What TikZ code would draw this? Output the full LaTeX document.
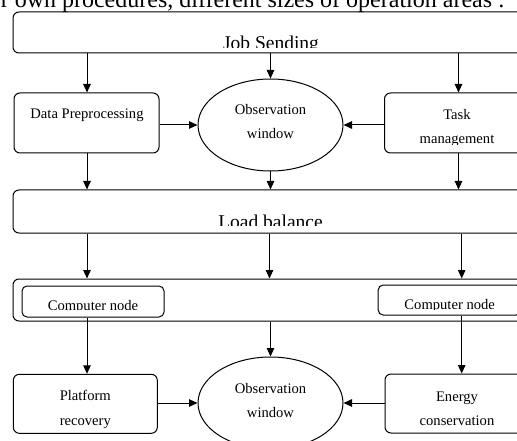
\documentclass[tikz,border=0pt]{standalone}
\usepackage{fontspec}
\setmainfont{Liberation Serif}
\usetikzlibrary{shapes.geometric,arrows.meta,calc}
\begin{document}
\begin{tikzpicture}[x=1pt,y=-1pt,
  box/.style={draw, line width=1pt, rounded corners=6pt, inner sep=0pt},
  oval/.style={draw, ellipse, line width=1pt, inner sep=0pt, minimum width=145pt, minimum height=92pt},
  txt/.style={font=\fontsize{14.6}{17}\selectfont, inner sep=0pt, anchor=base},
  big/.style={font=\fontsize{19.5}{23}\selectfont, inner sep=0pt, anchor=base},
  arr/.style={-{Triangle[length=8.5pt,width=7.5pt]}, line width=1pt}]
\useasboundingbox (0,0) rectangle (517,441);
\clip (0,0) rectangle (517,441);
\node[font=\fontsize{24}{28}\selectfont, inner sep=0pt, anchor=base east] (head) at (505,7.5) {r own procedures, different sizes of operation areas :};
% boxes
\node[box, minimum width=516pt, minimum height=41pt] (js) at (271,32.5) {};
\node[box, minimum width=145pt, minimum height=60pt] (dp) at (86.5,123) {};
\node[oval] (ow1) at (270.5,125) {};
\node[box, minimum width=145pt, minimum height=60pt] (tm) at (457,123) {};
\node[box, minimum width=516pt, minimum height=43pt] (lb) at (271,211.5) {};
\node[box, minimum width=516pt, minimum height=42pt] (outer) at (271,300) {};
\node[box, rounded corners=5pt, minimum width=142pt, minimum height=31pt] (cn1) at (93,301.5) {};
\node[box, rounded corners=5pt, minimum width=143pt, minimum height=30pt] (cn2) at (449.7,300) {};
\node[box, minimum width=144pt, minimum height=59pt] (pr) at (85.3,403.8) {};
\node[oval] (ow2) at (270.5,403) {};
\node[box, minimum width=144pt, minimum height=59pt] (ec) at (457,403.5) {};
% texts
\begin{scope}
\clip (0,0) rectangle (517,47.7);
\node[big] (jst) at (271,49.6) {Job Sending};
\end{scope}
\node[txt] (dpt) at (87,119) {Data Preprocessing};
\node[txt] (ow1a) at (270.5,115) {Observation};
\node[txt] (ow1b) at (270.5,139) {window};
\node[txt] (tmt) at (457,119.5) {Task};
\begin{scope}
\clip (0,0) rectangle (517,145);
\node[txt] (tmb) at (457,143.5) {management};
\end{scope}
\begin{scope}
\clip (0,0) rectangle (517,225.7);
\node[big] (lbt) at (270.5,228) {Load balance};
\end{scope}
\begin{scope}
\clip (0,0) rectangle (517,309.2);
\node[txt] (cn1t) at (93,310) {Computer node};
\node[txt] (cn2t) at (449.7,309) {Computer node};
\end{scope}
\node[txt] (prt) at (85.3,400) {Platform};
\begin{scope}
\clip (0,0) rectangle (517,427);
\node[txt] (prb) at (85.3,425) {recovery};
\end{scope}
\node[txt] (ow2a) at (270.5,393) {Observation};
\node[txt] (ow2b) at (270.5,417) {window};
\node[txt] (ect) at (457,401.5) {Energy};
\node[txt] (ecb) at (457,425.5) {conservation};
% columns
\coordinate (colL) at (87,0);
\coordinate (colM) at (269.5,0);
\coordinate (colR) at (461.7,0);
\coordinate (colT) at (458.5,0);
% arrows
\draw[arr] (js.south -| colL) -- (dp.north -| colL);
\draw[arr] (js.south -| ow1.north) -- (ow1.north);
\draw[arr] (js.south -| colT) -- (tm.north -| colT);
\draw[arr] (dp.east |- ow1.west) -- (ow1.west);
\draw[arr] (tm.west |- ow1.east) -- (ow1.east);
\draw[arr] (dp.south -| colL) -- (lb.north -| colL);
\draw[arr] (ow1.south) -- (ow1.south |- lb.north);
\draw[arr] (tm.south -| colT) -- (lb.north -| colT);
\draw[arr] (lb.south -| colL) -- (outer.north -| colL);
\draw[arr] (lb.south -| colM) -- (outer.north -| colM);
\draw[arr] (lb.south -| colR) -- (outer.north -| colR);
\draw[arr] (cn1.south -| colL) -- (pr.north -| colL);
\draw[arr] (outer.south -| ow2.north) -- (ow2.north);
\draw[arr] (cn2.south -| colR) -- (ec.north -| colR);
\draw[arr] (pr.east |- ow2.west) -- (ow2.west);
\draw[arr] (ec.west |- ow2.east) -- (ow2.east);
\end{tikzpicture}
\end{document}
